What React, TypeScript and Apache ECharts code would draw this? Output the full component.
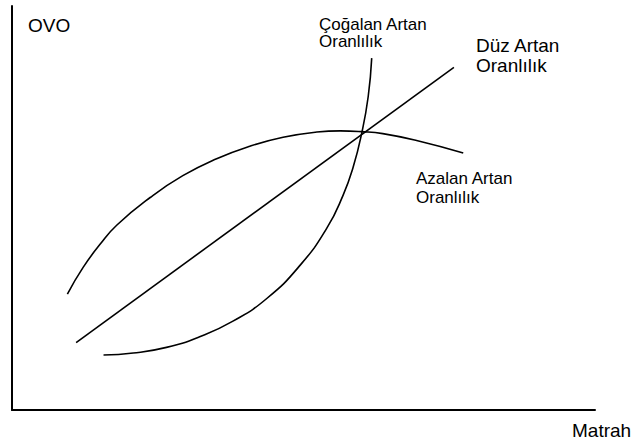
import React, { useEffect, useRef } from "react";
import * as echarts from "echarts";

// Matrah (x) and OVO (y) in relative units, 0–100 on both axes.
const duzMatrah = [11.0, 75.8];
const duzOvo = [16.7, 84.8];

const azalanMatrah = [9.5, 12.2, 15.1, 18.0, 23.7, 29.3, 35.1, 40.8, 46.5, 52.3, 56.3, 60.0, 63.6, 69.4, 77.4];
const azalanOvo = [28.7, 35.3, 41.0, 45.8, 52.6, 58.0, 62.2, 65.3, 67.5, 68.8, 69.1, 68.9, 68.4, 66.7, 63.6];

const cogalanMatrah = [15.7, 20.8, 26.5, 32.3, 37.9, 43.7, 49.4, 54.0, 56.8, 58.5, 60.0, 61.1, 61.7];
const cogalanOvo = [13.6, 14.1, 15.5, 18.2, 22.0, 27.6, 35.8, 45.0, 53.2, 60.0, 68.6, 77.6, 87.1];

const axisNames = { x: "Matrah", y: "OVO" };
const curveNames = {
  duz: "Düz Artan\nOranlılık",
  azalan: "Azalan Artan\nOranlılık",
  cogalan: "Çoğalan Artan\nOranlılık",
};

const zip = (xs: number[], ys: number[]) => xs.map((x, i) => [x, ys[i]]);

const FONT = "'Liberation Sans', Arial, sans-serif";

export default function App() {
  const ref = useRef<HTMLDivElement>(null);

  useEffect(() => {
    if (!ref.current) return;
    const chart = echarts.init(ref.current, undefined, { renderer: "svg" });

    const curve = (name: string, data: number[][], smooth: number | boolean) => ({
      type: "line",
      name,
      data,
      smooth,
      showSymbol: false,
      symbol: "none",
      lineStyle: { color: "#000", width: 1.6 },
    });

    const label = (text: string, x: number, y: number, size: number, lh: number, va: string) => ({
      type: "text",
      x,
      y,
      style: {
        text,
        fill: "#000",
        font: `${size}px ${FONT}`,
        lineHeight: lh,
        verticalAlign: va,
        align: "left",
      },
    });

    chart.setOption({
      animation: false,
      grid: { left: 12, right: 42, top: 6, bottom: 36 },
      xAxis: {
        type: "value",
        min: 0,
        max: 100,
        axisLine: { show: true, onZero: false, lineStyle: { color: "#000", width: 2 } },
        axisTick: { show: false },
        axisLabel: { show: false },
        splitLine: { show: false },
      },
      yAxis: {
        type: "value",
        min: 0,
        max: 100,
        axisLine: { show: true, onZero: false, lineStyle: { color: "#000", width: 2 } },
        axisTick: { show: false },
        axisLabel: { show: false },
        splitLine: { show: false },
      },
      series: [
        curve("duz", zip(duzMatrah, duzOvo), false),
        curve("azalan", zip(azalanMatrah, azalanOvo), 0.5),
        curve("cogalan", zip(cogalanMatrah, cogalanOvo), 0.5),
      ],
      graphic: [
        label(axisNames.y, 28, 25.4, 19, 19, "middle"),
        label(axisNames.x, 572, 430.4, 19, 19, "middle"),
        label(curveNames.duz, 476, 35, 19, 20, "top"),
        label(curveNames.cogalan, 319, 15.3, 17, 17.5, "top"),
        label(curveNames.azalan, 416, 169.4, 17, 18.5, "top"),
      ],
    });

    return () => chart.dispose();
  }, []);

  return (
    <div
      ref={ref}
      style={{ position: "fixed", left: 0, top: 0, width: 637, height: 446, background: "#fff" }}
    />
  );
}
